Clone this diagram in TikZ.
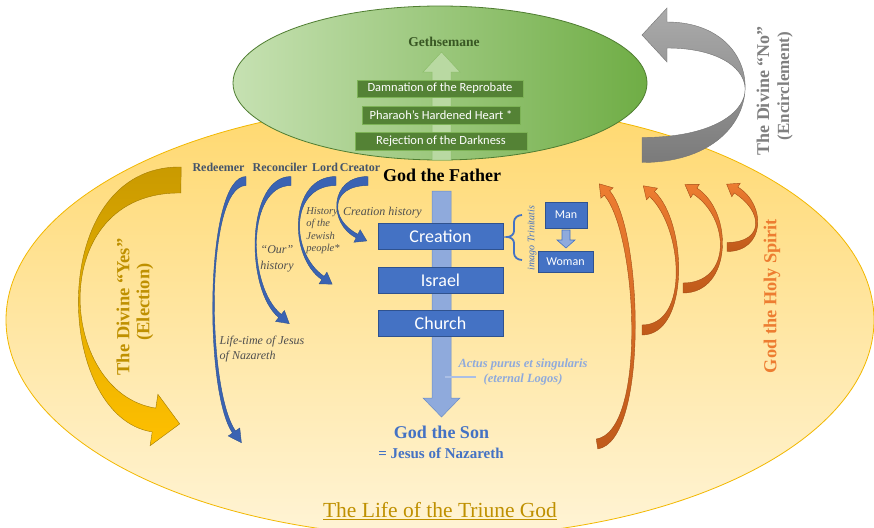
\documentclass[tikz,border=0pt]{standalone}
\usepackage{fontspec}
\setmainfont{Liberation Serif}
\newfontfamily\sansf{Carlito}
\usetikzlibrary{calc}

\definecolor{bluebox}{HTML}{4472C4}
\definecolor{blueedge}{HTML}{2F528F}
\definecolor{lightblue}{HTML}{8FAADC}
\definecolor{lightblueedge}{HTML}{6A8CC7}
\definecolor{darkblue}{HTML}{3A63B3}
\definecolor{slate}{HTML}{44546A}
\definecolor{gold}{HTML}{BF9000}
\definecolor{orng}{HTML}{ED7D31}
\definecolor{orngdark}{HTML}{C05A1A}
\definecolor{gboxc}{HTML}{548235}
\definecolor{gboxedge}{HTML}{7DB356}
\definecolor{gethgreen}{HTML}{385723}
\definecolor{histgray}{HTML}{4F4F4F}
\definecolor{ytop}{HTML}{FFD86E}
\definecolor{ybot}{HTML}{FFF4D6}
\definecolor{yedge}{HTML}{F2B800}
\definecolor{gleft}{HTML}{C6E1B2}
\definecolor{gright}{HTML}{6FAD45}
\definecolor{gedge}{HTML}{4F7D31}
\definecolor{yesdark}{HTML}{C99A00}
\definecolor{yesbright}{HTML}{FFC000}
\definecolor{nogray}{HTML}{808080}

% curved tapered block arrow: #1 style, #2 start, #3 c1, #4 c2, #5 end,
% #6 half width at start, #7 half width at end, #8 head half width, #9 head length
\newcommand{\carr}[9]{%
  \path[#1] ($#2!#6!90:#3$) .. controls ($#3!#6!-90:#2$) and ($#4!#7!90:#5$) .. ($#5!#7!-90:#4$)
    -- ($#5!#8!-90:#4$) -- ($#5!-#9!#4$) -- ($#5!#8!90:#4$) -- ($#5!#7!90:#4$)
    .. controls ($#4!#7!-90:#5$) and ($#3!#6!90:#2$) .. ($#2!#6!-90:#3$) -- cycle;}

\tikzset{
  barrow/.style={fill=darkblue, draw=blueedge, line width=0.4pt},
  yarrow/.style={top color=yesdark, bottom color=yesbright, draw=yesdark!80!black, line width=0.4pt},
  garrow/.style={top color=black!33, bottom color=black!52, draw=black!55, line width=0.4pt},
  oarrow/.style={top color=orng, bottom color=orngdark, draw=orngdark!85!black, line width=0.4pt},
  gboxs/.style={fill=gboxc, draw=gboxedge, line width=0.6pt, text=white, inner sep=0pt,
    font=\sansf\fontsize{12.5}{12.5}\selectfont},
  bboxs/.style={fill=bluebox, draw=blueedge, line width=0.6pt, text=white, inner sep=0pt,
    minimum width=125pt, minimum height=26pt, font=\sansf\fontsize{18}{18}\selectfont},
  sboxs/.style={fill=bluebox, draw=blueedge, line width=0.6pt, text=white, inner sep=0pt,
    font=\sansf\fontsize{12}{12}\selectfont},
  rolelab/.style={text=slate, inner sep=0pt, anchor=base, font=\bfseries\fontsize{12}{12}\selectfont},
  histlab/.style={text=histgray, inner sep=0pt, font=\itshape\fontsize{12}{15}\selectfont},
}

\begin{document}
\begin{tikzpicture}[x=1pt, y=-1pt]
\useasboundingbox (0,0) rectangle (874,527);
\fill[white] (0,0) rectangle (874,527);

% big yellow ellipse
\path[top color=ytop, bottom color=ybot, draw=yedge, line width=0.8pt]
  (440,320) ellipse [x radius=434, y radius=217];

% gray "No" arrow
\carr{garrow}{(642,150)}{(775,150)}{(775,35)}{(667,35)}{12.5pt}{13pt}{27pt}{25pt}

% green ellipse
\path[left color=gleft, right color=gright, draw=gedge, line width=0.8pt]
  (440,83) ellipse [x radius=207, y radius=77];

% green upward arrow
\path[fill=gleft!85!gright, draw=gright!80, line width=0.5pt]
  (432,160) -- (432,72) -- (423,72) -- (441.5,52) -- (460,72) -- (451,72) -- (451,160) -- cycle;

\node[font=\bfseries\fontsize{13.5}{13.5}\selectfont, text=gethgreen] (geth) at (444,42) {Gethsemane};
\node[gboxs, minimum width=166pt, minimum height=17pt] (damn) at (440,88.5) {Damnation of the Reprobate};
\node[gboxs, minimum width=158pt, minimum height=18pt] (phar) at (441,115) {Pharaoh’s Hardened Heart *};
\node[gboxs, minimum width=172pt, minimum height=18pt] (rej) at (441,141) {Rejection of the Darkness};

% Father / Son shaft
\path[fill=lightblue, draw=lightblueedge, line width=0.5pt]
  (432,191) -- (451,191) -- (451,398) -- (460,398) -- (441.5,417) -- (423,398) -- (432,398) -- cycle;

\node[font=\bfseries\fontsize{18}{18}\selectfont, inner sep=0pt, anchor=base] (father) at (442,181) {God the Father};

\node[bboxs] (creation) at (440.5,236) {Creation};
\node[bboxs] (israel) at (440.5,280) {Israel};
\node[bboxs] (church) at (440.5,323) {Church};

% Man / Woman
\node[sboxs, minimum width=42pt, minimum height=26pt] (man) at (566,215) {Man};
\node[sboxs, minimum width=55pt, minimum height=21pt] (woman) at (565.5,261.5) {Woman};
\path[fill=lightblue, draw=bluebox, line width=0.6pt]
  (562,230) -- (570,230) -- (570,240) -- (575,240) -- (566,248) -- (557,240) -- (562,240) -- cycle;

% brace
\draw[bluebox, line width=1.8pt] (522,215) to[out=180,in=90] (514,222) -- (514,231)
  to[out=-90,in=0] (507,237) to[out=0,in=90] (514,243) -- (514,253) to[out=-90,in=180] (522,260);
\node[rotate=90, text=bluebox, inner sep=0pt, font=\itshape\fontsize{10}{10}\selectfont] (imago) at (532,238) {imago Trinitatis};

% blue history arrows
\carr{barrow}{(246,181)}{(205,181)}{(205,390)}{(234,432)}{4.5pt}{1.8pt}{7pt}{13pt}
\carr{barrow}{(291,181)}{(246,181)}{(246,288)}{(280,316)}{4.5pt}{2pt}{7pt}{12pt}
\carr{barrow}{(336,181)}{(289,181)}{(289,255)}{(323,278)}{4.5pt}{2pt}{7pt}{11pt}
\carr{barrow}{(368,181)}{(329,181)}{(329,222)}{(357,236)}{4.5pt}{2pt}{7pt}{11pt}

\node[rolelab] (redeemer) at (218.5,171) {Redeemer};
\node[rolelab] (reconciler) at (280,171) {Reconciler};
\node[rolelab] (lord) at (325,171) {Lord};
\node[rolelab] (creator) at (360,171) {Creator};

\node[histlab, anchor=base west] (creahist) at (343,215) {Creation history};
\node[histlab, align=left, font=\itshape\fontsize{10.5}{12.3}\selectfont] (jewish) at (323,230.5) {History\\of the\\Jewish\\people*};
\node[histlab, align=center, font=\itshape\fontsize{12}{16}\selectfont] (our) at (277,258.5) {“Our”\\history};
\node[histlab, align=left] (lifetime) at (262,349.5) {Life-time of Jesus\\of Nazareth};

% Yes arrow
\carr{yarrow}{(181,180)}{(45,178)}{(55,405)}{(154,420)}{13pt}{12pt}{26pt}{26pt}
\node[rotate=90, text=gold, inner sep=0pt, font=\bfseries\fontsize{18.5}{18.5}\selectfont] (yes) at (123,307) {The Divine “Yes”};
\node[rotate=90, text=gold, inner sep=0pt, font=\bfseries\fontsize{18.5}{18.5}\selectfont] (election) at (145,302) {(Election)};

% No labels
\node[rotate=90, text=nogray, inner sep=0pt, font=\bfseries\fontsize{18}{18}\selectfont] (no) at (763,91) {The Divine “No”};
\node[rotate=90, text=nogray, inner sep=0pt, font=\bfseries\fontsize{17}{17}\selectfont] (encircle) at (785,86) {(Encirclement)};

% Holy Spirit arrows
\carr{oarrow}{(597,444)}{(648,436)}{(640,232)}{(607,193)}{5pt}{3.5pt}{8pt}{12pt}
\carr{oarrow}{(642,330)}{(690,330)}{(685,225)}{(652,194)}{5pt}{3.5pt}{8pt}{12pt}
\carr{oarrow}{(683,288)}{(732,288)}{(732,215)}{(695,191)}{5pt}{3.5pt}{8pt}{12pt}
\carr{oarrow}{(727,247)}{(765,247)}{(765,208)}{(736,190)}{4.5pt}{3.5pt}{8pt}{11pt}
\node[rotate=90, text=orng, inner sep=0pt, font=\bfseries\fontsize{18.3}{18.3}\selectfont] (spirit) at (772,296) {God the Holy Spirit};

% Actus purus
\node[text=lightblue, inner sep=0pt, align=center, font=\bfseries\itshape\fontsize{12.5}{15}\selectfont] (actus) at (523,371.5) {Actus purus et singularis\\(eternal Logos)};
\coordinate (shaftpt) at (445,377);
\coordinate (actusL) at (476,377);
\draw[lightblue!75, line width=2pt] (shaftpt) -- (actusL);

% God the Son
\node[text=bluebox, inner sep=0pt, font=\bfseries\fontsize{18}{18}\selectfont] (son) at (441.5,432) {God the Son};
\node[text=bluebox, inner sep=0pt, font=\bfseries\fontsize{15}{15}\selectfont] (jesus) at (441,453) {= Jesus of Nazareth};

% title
\node[text=gold, inner sep=0pt, font=\fontsize{21.5}{21.5}\selectfont] (title) at (440,511) {\underline{The Life of the Triune God}};
\end{tikzpicture}
\end{document}
